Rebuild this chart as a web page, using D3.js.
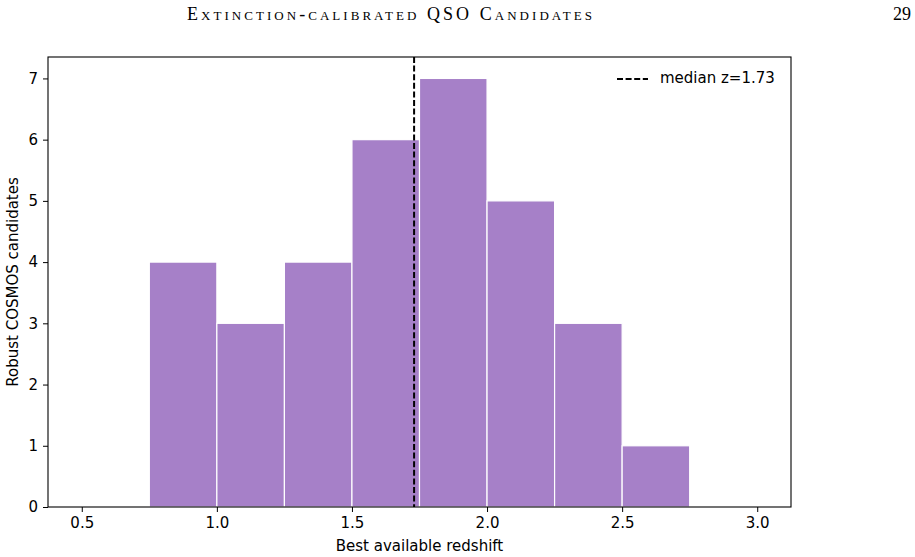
<!DOCTYPE html>
<html>
<head>
<meta charset="utf-8">
<script src="https://cdn.jsdelivr.net/npm/d3@7"></script>
<style>
  body { margin: 0; background: #fff; }
  text { font-family: "DejaVu Sans", sans-serif; }
  .axis text { font-size: 15px; fill: #000; font-family: "DejaVu Sans", sans-serif; }
  .axis path, .axis line { stroke: #000; }
</style>
</head>
<body>
<div id="chart"></div>
<script>
// Histogram data
var binEdges = [0.5, 0.75, 1.0, 1.25, 1.5, 1.75, 2.0, 2.25, 2.5, 2.75, 3.0];
var counts = [0, 4, 3, 4, 6, 7, 5, 3, 1, 0];
var xTicks = [0.5, 1.0, 1.5, 2.0, 2.5, 3.0];
var yTicks = [0, 1, 2, 3, 4, 5, 6, 7];
var medianZ = 1.73;

var svgWidth = 915;
var svgHeight = 557;
var margin = { top: 57, right: 124, bottom: 50, left: 48 };
var width = svgWidth - margin.left - margin.right;
var height = svgHeight - margin.top - margin.bottom;

var svg = d3.select('#chart')
    .append('svg')
    .attr('width', svgWidth)
    .attr('height', svgHeight);

// page header
svg.append('text')
    .attr('x', 389.5)
    .attr('y', 20)
    .attr('text-anchor', 'middle')
    .attr('textLength', 405)
    .style('font-family', '"Liberation Serif", serif')
    .style('font-variant', 'small-caps')
    .style('font-size', '18px')
    .text('Extinction-calibrated QSO Candidates');

svg.append('text')
    .attr('x', 911)
    .attr('y', 20)
    .attr('text-anchor', 'end')
    .style('font-family', '"Liberation Serif", serif')
    .style('font-size', '18px')
    .text('29');

var chart = svg.append('g')
    .attr('transform', 'translate(' + margin.left + ',' + margin.top + ')');

var x = d3.scaleLinear().domain([0.375, 3.125]).range([0, width]);
var y = d3.scaleLinear().domain([0, 7.35]).range([height, 0]);

var bins = counts.map(function (c, i) {
    return { x0: binEdges[i], x1: binEdges[i + 1], n: c };
});

chart.selectAll('rect.bar')
    .data(bins.filter(function (d) { return d.n > 0; }))
    .enter()
    .append('rect')
    .attr('class', 'bar')
    .attr('x', function (d) { return x(d.x0); })
    .attr('y', function (d) { return y(d.n); })
    .attr('width', function (d) { return x(d.x1) - x(d.x0); })
    .attr('height', function (d) { return y(0) - y(d.n); })
    .attr('fill', '#a680c8')
    .attr('stroke', '#fff')
    .attr('stroke-width', 1.2);

// median line
chart.append('line')
    .attr('x1', x(medianZ))
    .attr('x2', x(medianZ))
    .attr('y1', 0)
    .attr('y2', height)
    .attr('stroke', '#000')
    .attr('stroke-width', 2)
    .attr('stroke-dasharray', '6,2.6');

// axes
chart.append('g')
    .attr('class', 'axis')
    .attr('transform', 'translate(0,' + height + ')')
    .call(d3.axisBottom(x).tickValues(xTicks).tickFormat(d3.format('.1f')).tickSize(5).tickPadding(5));

chart.append('g')
    .attr('class', 'axis')
    .call(d3.axisLeft(y).tickValues(yTicks).tickFormat(d3.format('d')).tickSize(5).tickPadding(5));

chart.selectAll('.axis .domain').remove();

// frame
chart.append('rect')
    .attr('width', width)
    .attr('height', height)
    .attr('fill', 'none')
    .attr('stroke', '#000')
    .attr('stroke-width', 1.1);

// legend
chart.append('line')
    .attr('x1', 569)
    .attr('x2', 600)
    .attr('y1', 22)
    .attr('y2', 22)
    .attr('stroke', '#000')
    .attr('stroke-width', 2)
    .attr('stroke-dasharray', '6,2.6');

chart.append('text')
    .attr('x', 612)
    .attr('y', 26)
    .style('font-size', '15px')
    .text('median z=' + medianZ.toFixed(2));

// axis labels
chart.append('text')
    .attr('x', width / 2)
    .attr('y', height + 44)
    .attr('text-anchor', 'middle')
    .style('font-size', '15px')
    .text('Best available redshift');

chart.append('text')
    .attr('transform', 'rotate(-90)')
    .attr('x', -height / 2)
    .attr('y', -margin.left + 18)
    .attr('text-anchor', 'middle')
    .style('font-size', '15px')
    .text('Robust COSMOS candidates');
</script>
</body>
</html>
